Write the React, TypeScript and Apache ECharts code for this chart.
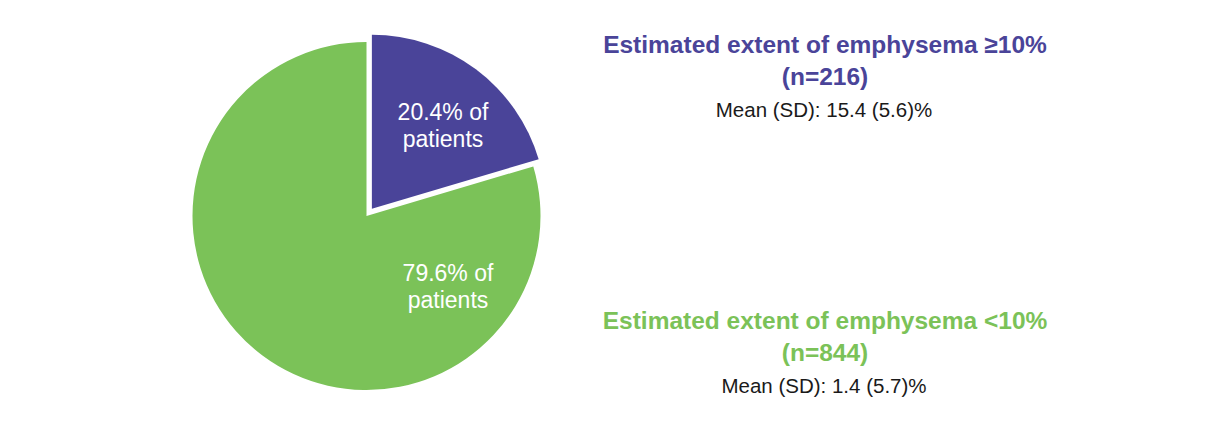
import React, { useEffect, useRef } from "react";
import * as echarts from "echarts";

const categories = ["Estimated extent of emphysema ≥10%", "Estimated extent of emphysema <10%"];
const sampleSizes = ["(n=216)", "(n=844)"];
const percentages = [20.4, 79.6];
const meanLabels = ["Mean (SD): 15.4 (5.6)%", "Mean (SD): 1.4 (5.7)%"];
const colors = ["#4a4499", "#7bc258"];

const FONT = "'Liberation Sans', Arial, Helvetica, sans-serif";

export default function App() {
  const ref = useRef<HTMLDivElement>(null);
  useEffect(() => {
    if (!ref.current) return;
    const chart = echarts.init(ref.current, undefined, { renderer: "svg" });
    const labelPos = [
      { x: 443, y: 125 },
      { x: 448, y: 286 },
    ];
    const titleY = [44.5, 320.5];
    const graphics: any[] = [];
    categories.forEach((c, i) => {
      graphics.push({
        type: "text",
        x: 825,
        y: titleY[i],
        style: {
          text: c,
          fill: colors[i],
          font: `bold 24.5px ${FONT}`,
          align: "center",
          verticalAlign: "middle",
        },
      });
      graphics.push({
        type: "text",
        x: 825,
        y: titleY[i] + 31.5,
        style: {
          text: sampleSizes[i],
          fill: colors[i],
          font: `bold 24.5px ${FONT}`,
          align: "center",
          verticalAlign: "middle",
        },
      });
      graphics.push({
        type: "text",
        x: 824,
        y: titleY[i] + 64.5,
        style: {
          text: meanLabels[i],
          fill: "#1a1a1a",
          font: `20.5px ${FONT}`,
          align: "center",
          verticalAlign: "middle",
        },
      });
      graphics.push({
        type: "text",
        x: labelPos[i].x,
        y: labelPos[i].y,
        z: 10,
        style: {
          text: `${percentages[i]}% of\npatients`,
          fill: "#ffffff",
          font: `23px ${FONT}`,
          lineHeight: 27,
          align: "center",
          verticalAlign: "middle",
        },
      });
    });
    chart.setOption({
      animation: false,
      backgroundColor: "#ffffff",
      graphic: graphics,
      series: [
        {
          type: "pie",
          center: [366.5, 216],
          radius: 174,
          startAngle: 90,
          clockwise: true,
          selectedMode: "single",
          selectedOffset: 9,
          emphasis: { disabled: true },
          silent: true,
          z: 1,
          labelLine: { show: false },
          label: { show: false },
          data: percentages.map((v, i) => ({
            name: categories[i],
            value: v,
            selected: i === 0,
            itemStyle: { color: colors[i] },
          })),
        },
      ],
    });
    return () => chart.dispose();
  }, []);
  return (
    <div
      ref={ref}
      style={{ position: "fixed", left: 0, top: 0, width: 1206, height: 421 }}
    />
  );
}
